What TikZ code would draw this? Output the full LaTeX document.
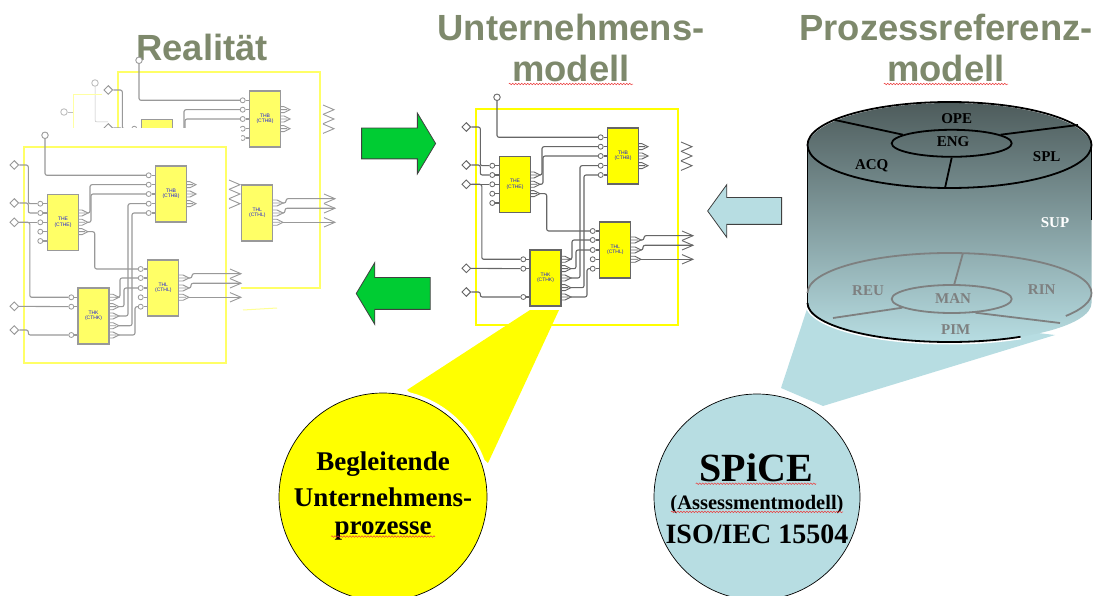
\documentclass[tikz,border=0pt]{standalone}
\usepackage{fontspec}
\setmainfont{Liberation Serif}
\setsansfont{Liberation Sans}
\usepackage{tikz}
\usetikzlibrary{shapes.geometric,shapes.arrows,calc,decorations.pathmorphing}
\definecolor{titleolive}{RGB}{126,137,108}
\definecolor{arrowgreen}{RGB}{0,204,51}
\definecolor{spiceblue}{RGB}{183,221,226}
\definecolor{cyltop}{RGB}{78,92,92}
\definecolor{cylgray}{RGB}{126,128,128}
\definecolor{pureyellow}{RGB}{255,255,0}
\definecolor{paleyellow}{RGB}{255,255,102}
\definecolor{spellred}{RGB}{235,60,60}
\definecolor{blocktext}{RGB}{30,30,215}
\tikzset{
  wire/.style={draw=wirecol,line width=1.1pt,rounded corners=2pt},
  blockbox/.style={draw=wirecol,fill=blockcol,line width=1.1pt,minimum width=31pt,minimum height=56pt,
    inner sep=0pt,align=center,text=blocktext,font=\sffamily\fontsize{5}{5.5}\selectfont},
  pinnode/.style={circle,draw=wirecol,fill=white,line width=0.8pt,minimum size=5pt,inner sep=0pt},
  termround/.style={circle,draw=wirecol,fill=white,line width=0.9pt,minimum size=6.5pt,inner sep=0pt},
  termleft/.style={diamond,draw=wirecol,fill=white,line width=0.9pt,minimum size=9pt,inner sep=0pt},
  outtip/.pic={\draw[wirecol,line width=0.9pt] (-10,-3) -- (-6,-3) -- (0,0) -- (-6,3) -- (-10,3) (-10,0) -- (-3,0);},
  outzig/.pic={\draw[wirecol,line width=0.9pt] (-11,-4.7) -- (0,0) -- (-11,4.7);},
  titletext/.style={text=titleolive,font=\sffamily\bfseries\fontsize{36.4}{40}\selectfont},
  cyltext/.style={font=\bfseries\fontsize{15}{16}\selectfont},
  toparc/.style={black,line width=1.8pt},
  lowarc/.style={cylgray,line width=1.8pt},
  spell/.style={spellred,line width=0.5pt,decorate,decoration={snake,amplitude=0.8pt,segment length=3pt}},
  blockarrow/.style={single arrow,draw=black!75,line width=0.8pt,inner sep=0pt,text depth=0pt},
}
\newcommand{\modelcircuit}[5]{
  \colorlet{blockcol}{#4}
  \colorlet{wirecol}{#5}
  \begin{scope}[shift={(#2,#3)},name prefix=#1]
    \node[draw=#4,line width=2pt,minimum width=202pt,minimum height=216pt,inner sep=0pt] (frame) at (101,108) {};
    \node[blockbox] (thb) at (147,47) {THB\\(CTHB)};
    \node[blockbox] (the) at (39,75.3) {THE\\(CTHE)};
    \node[blockbox] (thl) at (139.3,141) {THL\\(CTHL)};
    \node[blockbox] (thk) at (69.5,169) {THK\\(CTHK)};
    \foreach \i/\y in {1/28.3,2/37.7,3/47,4/56.7,5/66} {
      \node[pinnode] (thbp\i) at (124.7,\y) {};
      \draw[wire] (thbp\i) -- (thbp\i -| thb.west);
    }
    \foreach \i/\y in {1/56.7,2/66,3/75.3,4/84.7,5/94} {
      \node[pinnode] (thep\i) at (16.3,\y) {};
      \draw[wire] (thep\i) -- (thep\i -| the.west);
    }
    \foreach \i/\y in {1/122,2/131,3/141,4/150.3,5/159.7} {
      \node[pinnode] (thlp\i) at (116.7,\y) {};
      \draw[wire] (thlp\i) -- (thlp\i -| thl.west);
    }
    \foreach \i/\y in {1/150.3,2/159.7,3/188} {
      \node[pinnode] (thkp\i) at (47.3,\y) {};
      \draw[wire] (thkp\i) -- (thkp\i -| thk.west);
    }
    \foreach \i/\y in {1/37.7,2/47,3/56.7} {
      \coordinate (thbo\i) at (172,\y);
      \pic at (thbo\i) {outtip};
      \coordinate (thbx\i) at (216,\y);
      \pic at (thbx\i) {outzig};
    }
    \foreach \i/\y in {1/66,2/75.3,3/84.7} {
      \coordinate (theo\i) at (64,\y);
      \pic at (theo\i) {outtip};
    }
    \foreach \i/\y in {1/131,2/141,3/150.3} {
      \coordinate (thlo\i) at (165,\y);
      \pic at (thlo\i) {outtip};
    }
    \foreach \i/\y in {1/150.3,2/159.7,3/169,4/178.7,5/188} {
      \coordinate (thko\i) at (95,\y);
      \pic at (thko\i) {outtip};
    }
    \foreach \i/\y in {1/126.7,2/136.3,3/150.3} {
      \coordinate (thlx\i) at (217,\y);
      \pic at (thlx\i) {outzig};
    }
    \node[termround] (ttop) at (21,-11.7) {};
    \node[termleft] (tin1) at (-9.7,18) {};
    \node[termleft] (tin2) at (-9.7,56) {};
    \node[termleft] (tin3) at (-9.7,75.3) {};
    \node[termleft] (tin4) at (-9.7,159.3) {};
    \node[termleft] (tin5) at (-9.7,183) {};
    \draw[wire] (ttop) |- (thbp1);
    \draw[wire] (tin1) -- ++(14,0) |- (thep1);
    \draw[wire] (tin2) -- ++(14,0) |- (thep2);
    \draw[wire] (tin3) -- (thep3);
    \draw[wire] (tin3) -- ++(15.5,0) |- (thkp1);
    \draw[wire] (tin4) -- (thkp2);
    \draw[wire] (tin5) -- ++(14,0) |- (thkp3);
    \draw[wire] (theo1) -- ++(2,0) |- (thbp2);
    \draw[wire] (theo2) -- ++(3,0) |- (thbp3);
    \draw[wire] (theo3) -- ++(6.7,0) |- (thlp1);
    \draw[wire] (thko1) -- ++(1,0) |- (thlp2);
    \draw[wire] (thko2) -- ++(5,0) |- (thlp3);
    \draw[wire] (thko3) -- ++(9,0) |- (thbp4);
    \draw[wire] (thko4) -- ++(13,0) |- (thbp5);
    \draw[wire] (thko5) -- ++(16,0) |- (thlp5);
    \draw[wire] (thlo1) -- ++(3,0) |- (thlx1);
    \draw[wire] (thlo2) -- ++(2,0) |- (thlx2);
    \draw[wire] (thlo3) -- (thlx3);
  \end{scope}
}
\begin{document}
\begin{tikzpicture}[x=1pt,y=-1pt]
  \useasboundingbox (0,0) rectangle (1093,596);

  \node[titletext] (realitaet) at (202,47) {Realität};
  \node[titletext] (unternehmen) at (571,27) {Unternehmens-};
  \node[titletext] (untermodell) at (571,68) {modell};
  \node[titletext] (prozess) at (946,27) {Prozessreferenz-};
  \node[titletext] (prozessmodell) at (946,68) {modell};
  \draw[spell] ($(untermodell.base west)+(0,3)$) -- ($(untermodell.base east)+(0,3)$);
  \draw[spell] ($(prozessmodell.base west)+(0,3)$) -- ($(prozessmodell.base east)+(0,3)$);

  % third sheet, almost gone
  \colorlet{wirecol}{black!25}
  \node[termround] (pale1) at (95,83) {};
  \node[termround] (pale2) at (64,112) {};
  \coordinate (pale3) at (108,122);
  \coordinate (pale4) at (73,112);
  \coordinate (pale5) at (73,128);
  \coordinate (pale6) at (102,95);
  \draw[wire,line width=0.5pt] (pale1) |- (pale3);
  \draw[wire,line width=0.5pt] (pale2) -- (pale4);
  \draw[paleyellow!60,line width=1pt] (pale5) |- (pale6);

  \modelcircuit{back}{118}{72}{paleyellow}{black!40}
  \fill[white] (0,128) rectangle (241,366);
  \modelcircuit{front}{24}{147}{paleyellow}{black!40}
  \coordinate (stray1) at (243,310);
  \coordinate (stray2) at (277,308);
  \draw[paleyellow!70,line width=1pt] (stray1) -- (stray2);

  \fill[pureyellow] (530,310) -- (559,310) -- (488,463) -- (407,390) -- cycle;
  \modelcircuit{mid}{476}{109}{pureyellow}{black!60}

  \node[blockarrow,fill=arrowgreen,text height=30pt,minimum height=74pt,minimum width=60pt,single arrow head extend=15pt,
        single arrow tip angle=118] (greenright) at (394,143.5) {};
  \node[blockarrow,fill=arrowgreen,text height=31pt,minimum height=74pt,minimum width=60pt,single arrow head extend=15pt,
        single arrow tip angle=118,shape border rotate=180] (greenleft) at (398,293.5) {};
  \node[blockarrow,fill=spiceblue,text height=26pt,minimum height=74pt,minimum width=52pt,single arrow head extend=13pt,
        single arrow tip angle=108,shape border rotate=180] (blueleft) at (749.5,211) {};

  \fill[spiceblue] (808,306) -- (781,388) -- (823,406) -- (1055,335) -- cycle;

  % cylinder
  \draw[white,line width=5pt] (807.5,303) arc[start angle=180,end angle=60,x radius=142,y radius=39];
  \shade[top color=cyltop,bottom color=spiceblue]
    (807.5,147) arc[start angle=180,end angle=360,x radius=142,y radius=44]
    -- (1091.5,303) arc[start angle=0,end angle=180,x radius=142,y radius=39] -- cycle;
  \draw[toparc] (807.5,303) -- (807.5,147);
  \draw[toparc] (1091.5,147) -- (1091.5,220);
  \draw[toparc] (949.5,145) ellipse[x radius=142,y radius=43];
  \node[draw=black,line width=1.8pt,ellipse,minimum width=120pt,minimum height=27pt,inner sep=0pt] (engring) at (951.7,143.3) {};
  \coordinate (spoketop1) at (835,120);
  \coordinate (spoketop2) at (1078,125);
  \coordinate (spoketop3) at (945,188);
  \draw[toparc] (spoketop1) -- (engring.170);
  \draw[toparc] (spoketop2) -- (engring.10);
  \draw[toparc] (spoketop3) -- (engring.south);
  \draw[lowarc] (807.5,293) arc[start angle=180,end angle=395,x radius=142,y radius=40];
  \draw[toparc] (807.5,303) arc[start angle=180,end angle=60,x radius=142,y radius=39];
  \node[draw=cylgray,line width=1.8pt,ellipse,minimum width=120pt,minimum height=28pt,inner sep=0pt] (manring) at (951.7,299) {};
  \coordinate (spokelow1) at (962.7,254);
  \coordinate (spokelow2) at (833,318);
  \coordinate (spokelow3) at (1060,323);
  \draw[lowarc] (spokelow1) -- (manring.80);
  \draw[lowarc] (spokelow2) -- (manring.190);
  \draw[lowarc] (spokelow3) -- (manring.-30);

  \node[cyltext] (ope) at (956.7,119) {OPE};
  \node[cyltext] (eng) at (953,141.7) {ENG};
  \node[cyltext] (acq) at (871.7,166) {ACQ};
  \node[cyltext] (spl) at (1046.7,156.7) {SPL};
  \node[cyltext,text=white] (sup) at (1055,222.7) {SUP};
  \node[cyltext,text=cylgray] (reu) at (868,291) {REU};
  \node[cyltext,text=cylgray] (rin) at (1041.7,290) {RIN};
  \node[cyltext,text=cylgray] (man) at (953,299) {MAN};
  \node[cyltext,text=cylgray] (pim) at (955.7,330) {PIM};

  % the two round labels
  \fill[white] (383,497) circle (108);
  \fill[white] (757,497) circle (107);
  \node[circle,draw=black,fill=pureyellow,line width=0.7pt,minimum size=208pt,inner sep=0pt] (yellowdisc) at (383,497) {};
  \node[circle,draw=black,fill=spiceblue,line width=0.7pt,minimum size=206pt,inner sep=0pt] (spicedisc) at (757,497) {};

  \node[font=\bfseries\fontsize{27}{30}\selectfont] (begl1) at (383,464) {Begleitende};
  \node[font=\bfseries\fontsize{27}{30}\selectfont] (begl2) at (383,497) {Unternehmens-};
  \node[font=\bfseries\fontsize{27}{30}\selectfont] (begl3) at (383,531) {prozesse};
  \draw[spell] ($(begl3.base west)+(0,2)$) -- ($(begl3.base east)+(0,2)$);

  \node[font=\bfseries\fontsize{40}{44}\selectfont] (spice) at (756,468) {SPiCE};
  \node[font=\bfseries\fontsize{20.5}{22}\selectfont] (assess) at (757,505) {(Assessmentmodell)};
  \node[font=\bfseries\fontsize{28}{30}\selectfont] (iso) at (757,534) {ISO/IEC 15504};
  \draw[spell] ($(spice.base west)+(0,2)$) -- ($(spice.base east)+(0,2)$);
  \draw[spell] ($(assess.base west)+(4,2)$) -- ($(assess.base east)+(-4,2)$);
\end{tikzpicture}
\end{document}
